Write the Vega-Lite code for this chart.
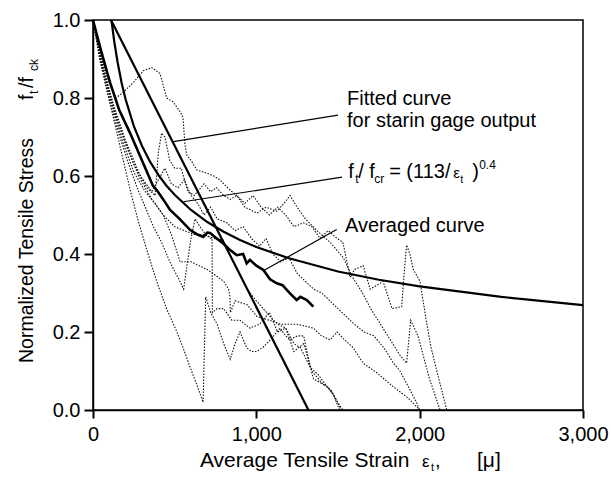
{
"$schema":"https://vega.github.io/schema/vega-lite/v6.json",
"width":490,"height":390,
"autosize":{"type":"none"},
"padding":{"left":93,"top":20,"right":28,"bottom":73},
"background":"white",
"config":{"font":"Liberation Sans","view":{"stroke":"black","strokeWidth":1.5},"text":{"font":"Liberation Sans","color":"black"},"axis":{"ticks":true,"grid":false,"title":null,"labelFlush":false,"labelOverlap":false,"zindex":1}},
"datasets":{
"dotted":[
{"s":"B3","x":0,"y":1.0},{"s":"B3","x":40,"y":0.91},{"s":"B3","x":80,"y":0.83},{"s":"B3","x":130,"y":0.74},{"s":"B3","x":180,"y":0.65},{"s":"B3","x":230,"y":0.56},{"s":"B3","x":280,"y":0.48},{"s":"B3","x":330,"y":0.41},{"s":"B3","x":390,"y":0.33},{"s":"B3","x":450,"y":0.26},{"s":"B3","x":514,"y":0.2},{"s":"B3","x":560,"y":0.15},{"s":"B3","x":594,"y":0.11},{"s":"B3","x":640,"y":0.06},{"s":"B3","x":674,"y":0.02},{"s":"B3","x":690,"y":0.29},{"s":"B3","x":720,"y":0.25},{"s":"B3","x":760,"y":0.22},{"s":"B3","x":800,"y":0.17},{"s":"B3","x":840,"y":0.13},{"s":"B3","x":870,"y":0.17},{"s":"B3","x":900,"y":0.2},{"s":"B3","x":940,"y":0.16},{"s":"B3","x":970,"y":0.15},{"s":"B3","x":1000,"y":0.15},{"s":"B3","x":1040,"y":0.16},{"s":"B3","x":1085,"y":0.18},{"s":"B3","x":1145,"y":0.21},{"s":"B3","x":1180,"y":0.19},{"s":"B3","x":1205,"y":0.18},{"s":"B3","x":1250,"y":0.19},{"s":"B3","x":1290,"y":0.19},{"s":"B3","x":1330,"y":0.11},{"s":"B3","x":1350,"y":0.08},{"s":"B3","x":1390,"y":0.07},{"s":"B3","x":1435,"y":0.06},{"s":"B3","x":1470,"y":0.04},{"s":"B3","x":1510,"y":0.0},
{"s":"B1","x":0,"y":1.0},{"s":"B1","x":40,"y":0.9},{"s":"B1","x":90,"y":0.81},{"s":"B1","x":150,"y":0.72},{"s":"B1","x":210,"y":0.64},{"s":"B1","x":270,"y":0.57},{"s":"B1","x":320,"y":0.52},{"s":"B1","x":370,"y":0.47},{"s":"B1","x":420,"y":0.43},{"s":"B1","x":470,"y":0.38},{"s":"B1","x":520,"y":0.34},{"s":"B1","x":555,"y":0.31},{"s":"B1","x":575,"y":0.37},{"s":"B1","x":600,"y":0.44},{"s":"B1","x":625,"y":0.49},{"s":"B1","x":655,"y":0.47},{"s":"B1","x":690,"y":0.45},{"s":"B1","x":720,"y":0.44},{"s":"B1","x":729,"y":0.44},{"s":"B1","x":731,"y":0.25},{"s":"B1","x":760,"y":0.26},{"s":"B1","x":800,"y":0.26},{"s":"B1","x":850,"y":0.23},{"s":"B1","x":900,"y":0.23},{"s":"B1","x":960,"y":0.21},{"s":"B1","x":1020,"y":0.22},{"s":"B1","x":1080,"y":0.25},{"s":"B1","x":1130,"y":0.2},{"s":"B1","x":1180,"y":0.21},{"s":"B1","x":1230,"y":0.15},{"s":"B1","x":1290,"y":0.17},{"s":"B1","x":1340,"y":0.1},{"s":"B1","x":1400,"y":0.07},{"s":"B1","x":1460,"y":0.05},{"s":"B1","x":1520,"y":0.0},
{"s":"B2","x":0,"y":1.0},{"s":"B2","x":50,"y":0.89},{"s":"B2","x":110,"y":0.79},{"s":"B2","x":180,"y":0.69},{"s":"B2","x":250,"y":0.61},{"s":"B2","x":320,"y":0.56},{"s":"B2","x":380,"y":0.53},{"s":"B2","x":430,"y":0.5},{"s":"B2","x":480,"y":0.45},{"s":"B2","x":533,"y":0.38},{"s":"B2","x":600,"y":0.38},{"s":"B2","x":650,"y":0.37},{"s":"B2","x":700,"y":0.36},{"s":"B2","x":735,"y":0.35},{"s":"B2","x":800,"y":0.33},{"s":"B2","x":830,"y":0.31},{"s":"B2","x":839,"y":0.29},{"s":"B2","x":841,"y":0.25},{"s":"B2","x":870,"y":0.28},{"s":"B2","x":943,"y":0.27},{"s":"B2","x":1004,"y":0.24},{"s":"B2","x":1080,"y":0.23},{"s":"B2","x":1150,"y":0.22},{"s":"B2","x":1250,"y":0.22},{"s":"B2","x":1349,"y":0.21},{"s":"B2","x":1400,"y":0.19},{"s":"B2","x":1452,"y":0.18},{"s":"B2","x":1494,"y":0.2},{"s":"B2","x":1540,"y":0.18},{"s":"B2","x":1592,"y":0.16},{"s":"B2","x":1654,"y":0.12},{"s":"B2","x":1739,"y":0.095},{"s":"B2","x":1837,"y":0.06},{"s":"B2","x":1923,"y":0.033},{"s":"B2","x":2002,"y":0.0},
{"s":"B5","x":0,"y":1.0},{"s":"B5","x":45,"y":0.9},{"s":"B5","x":120,"y":0.78},{"s":"B5","x":200,"y":0.68},{"s":"B5","x":280,"y":0.6},{"s":"B5","x":360,"y":0.54},{"s":"B5","x":430,"y":0.5},{"s":"B5","x":500,"y":0.47},{"s":"B5","x":560,"y":0.46},{"s":"B5","x":620,"y":0.45},{"s":"B5","x":680,"y":0.45},{"s":"B5","x":740,"y":0.44},{"s":"B5","x":796,"y":0.436},{"s":"B5","x":870,"y":0.37},{"s":"B5","x":943,"y":0.31},{"s":"B5","x":1000,"y":0.28},{"s":"B5","x":1084,"y":0.24},{"s":"B5","x":1130,"y":0.22},{"s":"B5","x":1180,"y":0.21},{"s":"B5","x":1230,"y":0.17},{"s":"B5","x":1270,"y":0.16},{"s":"B5","x":1329,"y":0.11},{"s":"B5","x":1380,"y":0.09},{"s":"B5","x":1433,"y":0.06},{"s":"B5","x":1470,"y":0.04},{"s":"B5","x":1513,"y":0.01},{"s":"B5","x":1530,"y":0.0},
{"s":"U1","x":0,"y":1.0},{"s":"U1","x":40,"y":0.92},{"s":"U1","x":90,"y":0.85},{"s":"U1","x":140,"y":0.8},{"s":"U1","x":186,"y":0.815},{"s":"U1","x":248,"y":0.84},{"s":"U1","x":308,"y":0.87},{"s":"U1","x":359,"y":0.878},{"s":"U1","x":410,"y":0.863},{"s":"U1","x":451,"y":0.8},{"s":"U1","x":490,"y":0.79},{"s":"U1","x":533,"y":0.765},{"s":"U1","x":551,"y":0.75},{"s":"U1","x":563,"y":0.68},{"s":"U1","x":574,"y":0.654},{"s":"U1","x":600,"y":0.64},{"s":"U1","x":637,"y":0.615},{"s":"U1","x":698,"y":0.607},{"s":"U1","x":740,"y":0.6},{"s":"U1","x":778,"y":0.59},{"s":"U1","x":800,"y":0.58},{"s":"U1","x":839,"y":0.564},{"s":"U1","x":880,"y":0.55},{"s":"U1","x":930,"y":0.53},{"s":"U1","x":980,"y":0.55},{"s":"U1","x":1030,"y":0.52},{"s":"U1","x":1080,"y":0.5},{"s":"U1","x":1130,"y":0.52},{"s":"U1","x":1180,"y":0.5},{"s":"U1","x":1230,"y":0.47},{"s":"U1","x":1290,"y":0.48},{"s":"U1","x":1340,"y":0.47},{"s":"U1","x":1390,"y":0.44},{"s":"U1","x":1440,"y":0.46},{"s":"U1","x":1494,"y":0.44},{"s":"U1","x":1530,"y":0.43},{"s":"U1","x":1574,"y":0.34},{"s":"U1","x":1600,"y":0.36},{"s":"U1","x":1654,"y":0.37},{"s":"U1","x":1697,"y":0.31},{"s":"U1","x":1740,"y":0.32},{"s":"U1","x":1776,"y":0.33},{"s":"U1","x":1831,"y":0.26},{"s":"U1","x":1890,"y":0.265},{"s":"U1","x":1905,"y":0.35},{"s":"U1","x":1920,"y":0.423},{"s":"U1","x":1940,"y":0.4},{"s":"U1","x":1961,"y":0.36},{"s":"U1","x":2002,"y":0.33},{"s":"U1","x":2040,"y":0.23},{"s":"U1","x":2070,"y":0.16},{"s":"U1","x":2105,"y":0.1},{"s":"U1","x":2166,"y":0.0},
{"s":"U2","x":0,"y":1.0},{"s":"U2","x":60,"y":0.88},{"s":"U2","x":150,"y":0.74},{"s":"U2","x":250,"y":0.63},{"s":"U2","x":330,"y":0.57},{"s":"U2","x":380,"y":0.55},{"s":"U2","x":400,"y":0.66},{"s":"U2","x":420,"y":0.71},{"s":"U2","x":440,"y":0.7},{"s":"U2","x":470,"y":0.64},{"s":"U2","x":500,"y":0.62},{"s":"U2","x":540,"y":0.62},{"s":"U2","x":580,"y":0.56},{"s":"U2","x":620,"y":0.55},{"s":"U2","x":680,"y":0.58},{"s":"U2","x":720,"y":0.56},{"s":"U2","x":757,"y":0.57},{"s":"U2","x":800,"y":0.55},{"s":"U2","x":840,"y":0.54},{"s":"U2","x":880,"y":0.55},{"s":"U2","x":930,"y":0.52},{"s":"U2","x":1004,"y":0.505},{"s":"U2","x":1060,"y":0.52},{"s":"U2","x":1125,"y":0.51},{"s":"U2","x":1170,"y":0.53},{"s":"U2","x":1206,"y":0.55},{"s":"U2","x":1250,"y":0.52},{"s":"U2","x":1300,"y":0.49},{"s":"U2","x":1371,"y":0.46},{"s":"U2","x":1452,"y":0.43},{"s":"U2","x":1533,"y":0.39},{"s":"U2","x":1590,"y":0.34},{"s":"U2","x":1650,"y":0.3},{"s":"U2","x":1700,"y":0.26},{"s":"U2","x":1760,"y":0.22},{"s":"U2","x":1820,"y":0.18},{"s":"U2","x":1880,"y":0.14},{"s":"U2","x":1920,"y":0.12},{"s":"U2","x":1945,"y":0.23},{"s":"U2","x":1990,"y":0.19},{"s":"U2","x":2060,"y":0.08},{"s":"U2","x":2125,"y":0.0},
{"s":"U3","x":0,"y":1.0},{"s":"U3","x":50,"y":0.9},{"s":"U3","x":120,"y":0.79},{"s":"U3","x":200,"y":0.69},{"s":"U3","x":290,"y":0.6},{"s":"U3","x":360,"y":0.56},{"s":"U3","x":400,"y":0.59},{"s":"U3","x":440,"y":0.62},{"s":"U3","x":480,"y":0.58},{"s":"U3","x":520,"y":0.57},{"s":"U3","x":560,"y":0.59},{"s":"U3","x":600,"y":0.55},{"s":"U3","x":640,"y":0.53},{"s":"U3","x":680,"y":0.5},{"s":"U3","x":720,"y":0.52},{"s":"U3","x":760,"y":0.49},{"s":"U3","x":820,"y":0.48},{"s":"U3","x":870,"y":0.46},{"s":"U3","x":920,"y":0.47},{"s":"U3","x":970,"y":0.44},{"s":"U3","x":1020,"y":0.42},{"s":"U3","x":1060,"y":0.44},{"s":"U3","x":1100,"y":0.4},{"s":"U3","x":1150,"y":0.38},{"s":"U3","x":1200,"y":0.39},{"s":"U3","x":1250,"y":0.35},{"s":"U3","x":1300,"y":0.33},{"s":"U3","x":1350,"y":0.31},{"s":"U3","x":1400,"y":0.3},{"s":"U3","x":1450,"y":0.28},{"s":"U3","x":1500,"y":0.26},{"s":"U3","x":1550,"y":0.24},{"s":"U3","x":1600,"y":0.22},{"s":"U3","x":1660,"y":0.2},{"s":"U3","x":1720,"y":0.19},{"s":"U3","x":1780,"y":0.16},{"s":"U3","x":1840,"y":0.12},{"s":"U3","x":1880,"y":0.1},{"s":"U3","x":1930,"y":0.06},{"s":"U3","x":1980,"y":0.02},{"s":"U3","x":2000,"y":0.0}
],
"solid":[
{"s":"fit","x":110,"y":1.0},{"s":"fit","x":1319,"y":0.0},
{"s":"pow","x":113,"y":1.0},{"s":"pow","x":130,"y":0.945},{"s":"pow","x":150,"y":0.893},{"s":"pow","x":175,"y":0.839},{"s":"pow","x":200,"y":0.796},{"s":"pow","x":250,"y":0.728},{"s":"pow","x":300,"y":0.677},{"s":"pow","x":350,"y":0.636},{"s":"pow","x":400,"y":0.603},{"s":"pow","x":450,"y":0.575},{"s":"pow","x":500,"y":0.552},{"s":"pow","x":600,"y":0.513},{"s":"pow","x":700,"y":0.482},{"s":"pow","x":800,"y":0.457},{"s":"pow","x":900,"y":0.436},{"s":"pow","x":1000,"y":0.418},{"s":"pow","x":1200,"y":0.389},{"s":"pow","x":1500,"y":0.355},{"s":"pow","x":1750,"y":0.334},{"s":"pow","x":2000,"y":0.317},{"s":"pow","x":2500,"y":0.29},{"s":"pow","x":3000,"y":0.269}
],
"avg":[
{"x":0,"y":1.0},{"x":50,"y":0.92},{"x":104,"y":0.84},{"x":160,"y":0.77},{"x":227,"y":0.71},{"x":300,"y":0.64},{"x":367,"y":0.575},{"x":390,"y":0.564},{"x":430,"y":0.54},{"x":472,"y":0.513},{"x":530,"y":0.49},{"x":594,"y":0.462},{"x":640,"y":0.45},{"x":675,"y":0.444},{"x":700,"y":0.455},{"x":717,"y":0.454},{"x":757,"y":0.44},{"x":798,"y":0.427},{"x":840,"y":0.41},{"x":880,"y":0.397},{"x":919,"y":0.4},{"x":941,"y":0.376},{"x":961,"y":0.385},{"x":1000,"y":0.37},{"x":1043,"y":0.359},{"x":1084,"y":0.335},{"x":1125,"y":0.325},{"x":1160,"y":0.32},{"x":1206,"y":0.299},{"x":1247,"y":0.282},{"x":1270,"y":0.29},{"x":1309,"y":0.282},{"x":1349,"y":0.265}
],
"leaders":[
{"s":"a","x":492,"y":0.688},{"s":"a","x":1500,"y":0.756},
{"s":"b","x":553,"y":0.534},{"s":"b","x":1525,"y":0.597},
{"s":"c","x":1043,"y":0.357},{"s":"c","x":1492,"y":0.463}
],
"xt":[{"x":655,"y":-0.146}],
"yt":[{"x":-367,"y":0.1205}],
"f1":[{"x":1555,"y":0.782}],
"f2":[{"x":1555,"y":0.726}],
"fm":[{"x":1562,"y":0.595}],
"av":[{"x":1543,"y":0.456}]
},
"encoding":{
"x":{"field":"x","type":"quantitative","scale":{"domain":[0,3000],"nice":false,"zero":false},"axis":{"values":[0,1000,2000,3000],"format":",d","tickSize":8,"tickColor":"black","tickWidth":2,"domainColor":"black","domainWidth":1.5,"labelColor":"black","labelFontSize":20,"labelPadding":6,"zindex":1}},
"y":{"field":"y","type":"quantitative","scale":{"domain":[0,1],"nice":false,"zero":false},"axis":{"values":[0,0.2,0.4,0.6,0.8,1.0],"format":".1f","tickSize":9,"tickColor":"black","tickWidth":2,"domainColor":"black","domainWidth":1.5,"labelColor":"black","labelFontSize":20,"labelPadding":4,"zindex":1}}
},
"layer":[
{"data":{"name":"dotted"},"mark":{"type":"line","color":"#111111","strokeWidth":1.1,"strokeDash":[1.5,1.5]},"encoding":{"detail":{"field":"s"}}},
{"data":{"name":"solid"},"mark":{"type":"line","color":"black","strokeWidth":2.2},"encoding":{"detail":{"field":"s"}}},
{"data":{"name":"avg"},"mark":{"type":"line","color":"black","strokeWidth":2.6},"encoding":{}},
{"data":{"name":"leaders"},"mark":{"type":"line","color":"black","strokeWidth":1.2},"encoding":{"detail":{"field":"s"}}},
{"data":{"name":"xt"},"mark":{"type":"text","align":"left","baseline":"alphabetic","fontSize":21},"encoding":{"text":{"value":"Average Tensile Strain"}}},
{"data":{"name":"xt"},"mark":{"type":"text","align":"left","baseline":"alphabetic","fontSize":17,"dx":222},"encoding":{"text":{"value":"ε"}}},
{"data":{"name":"xt"},"mark":{"type":"text","align":"left","baseline":"alphabetic","fontSize":11,"dx":231,"dy":4},"encoding":{"text":{"value":"t"}}},
{"data":{"name":"xt"},"mark":{"type":"text","align":"left","baseline":"alphabetic","fontSize":20,"dx":235},"encoding":{"text":{"value":","}}},
{"data":{"name":"xt"},"mark":{"type":"text","align":"left","baseline":"alphabetic","fontSize":21,"dx":277},"encoding":{"text":{"value":"[μ]"}}},
{"data":{"name":"yt"},"mark":{"type":"text","align":"left","baseline":"alphabetic","fontSize":19.5,"angle":270},"encoding":{"text":{"value":"Normalized Tensile Stress"}}},
{"data":{"name":"yt"},"mark":{"type":"text","align":"left","baseline":"alphabetic","fontSize":19.5,"angle":270,"dx":263},"encoding":{"text":{"value":"f"}}},
{"data":{"name":"yt"},"mark":{"type":"text","align":"left","baseline":"alphabetic","fontSize":12,"angle":270,"dx":269,"dy":5},"encoding":{"text":{"value":"t"}}},
{"data":{"name":"yt"},"mark":{"type":"text","align":"left","baseline":"alphabetic","fontSize":19.5,"angle":270,"dx":275},"encoding":{"text":{"value":"/f"}}},
{"data":{"name":"yt"},"mark":{"type":"text","align":"left","baseline":"alphabetic","fontSize":12,"angle":270,"dx":292,"dy":5},"encoding":{"text":{"value":"ck"}}},
{"data":{"name":"f1"},"mark":{"type":"text","align":"left","baseline":"alphabetic","fontSize":20},"encoding":{"text":{"value":"Fitted curve"}}},
{"data":{"name":"f2"},"mark":{"type":"text","align":"left","baseline":"alphabetic","fontSize":20},"encoding":{"text":{"value":"for starin gage output"}}},
{"data":{"name":"av"},"mark":{"type":"text","align":"left","baseline":"alphabetic","fontSize":20},"encoding":{"text":{"value":"Averaged curve"}}},
{"data":{"name":"fm"},"mark":{"type":"text","align":"left","baseline":"alphabetic","fontSize":20},"encoding":{"text":{"value":"f"}}},
{"data":{"name":"fm"},"mark":{"type":"text","align":"left","baseline":"alphabetic","fontSize":12,"dx":7,"dy":5},"encoding":{"text":{"value":"t"}}},
{"data":{"name":"fm"},"mark":{"type":"text","align":"left","baseline":"alphabetic","fontSize":20,"dx":10},"encoding":{"text":{"value":"/ f"}}},
{"data":{"name":"fm"},"mark":{"type":"text","align":"left","baseline":"alphabetic","fontSize":12,"dx":26,"dy":5},"encoding":{"text":{"value":"cr"}}},
{"data":{"name":"fm"},"mark":{"type":"text","align":"left","baseline":"alphabetic","fontSize":20,"dx":41},"encoding":{"text":{"value":"= (113/"}}},
{"data":{"name":"fm"},"mark":{"type":"text","align":"left","baseline":"alphabetic","fontSize":15,"dx":105},"encoding":{"text":{"value":"ε"}}},
{"data":{"name":"fm"},"mark":{"type":"text","align":"left","baseline":"alphabetic","fontSize":11,"dx":112,"dy":5},"encoding":{"text":{"value":"t"}}},
{"data":{"name":"fm"},"mark":{"type":"text","align":"left","baseline":"alphabetic","fontSize":20,"dx":124},"encoding":{"text":{"value":")"}}},
{"data":{"name":"fm"},"mark":{"type":"text","align":"left","baseline":"alphabetic","fontSize":12,"dx":131,"dy":-9},"encoding":{"text":{"value":"0.4"}}}
]
}
